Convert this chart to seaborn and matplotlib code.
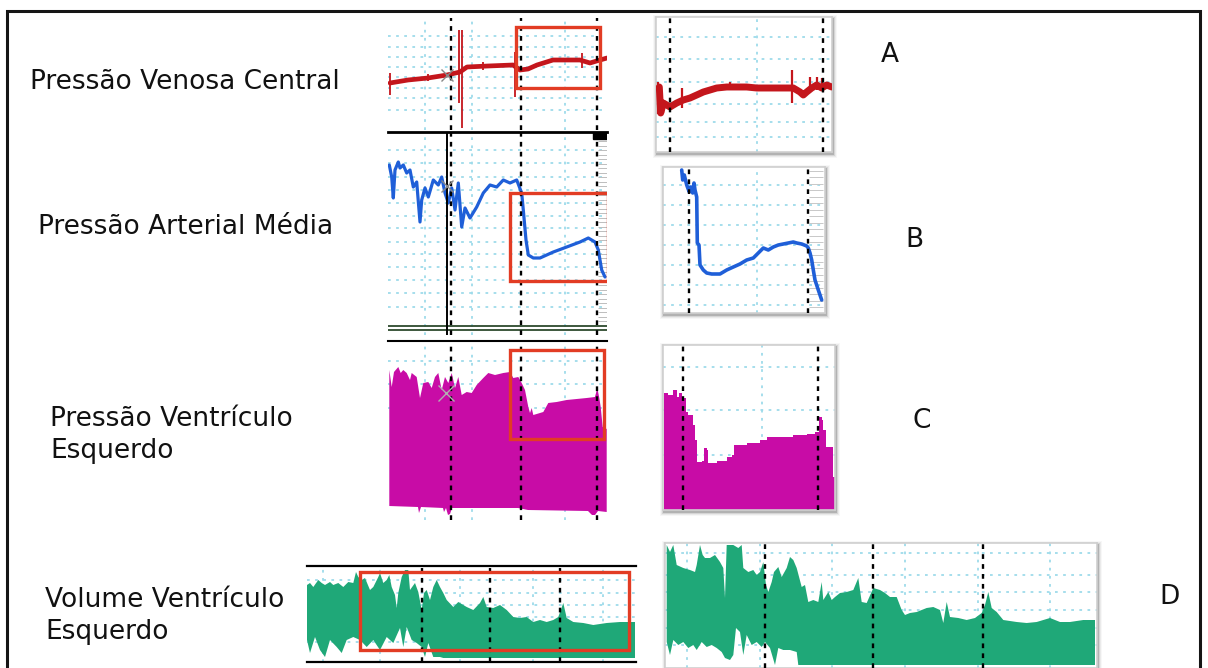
import numpy as np
import seaborn as sns
import matplotlib.pyplot as plt
from matplotlib.patches import Rectangle

sns.set_theme(style="white")
plt.rcParams['font.family'] = ['DejaVu Sans']

W, H = 1208, 668

# ---- traces (time units, signal units) ----
# A left: pressao venosa central
a_t = [2, 20, 40, 59, 72, 79, 100, 125, 132, 140, 149, 165, 192, 202, 212, 219]
a_v = [47, 50, 52, 55, 58, 63, 64, 65, 60, 61, 65, 70, 70, 67, 70, 72]
a_spk_t = [2, 71, 74, 127, 194, 95, 40]
a_spk_lo = [35, 27, 2, 33, 62, 60, 49]
a_spk_hi = [57, 100, 100, 78, 77, 68, 56]
a_marks = [63, 133, 209]

# B left: pressao arterial media
b_t = [1.3, 3.7, 5.3, 7, 10.3, 12, 15.3, 18.7, 22, 25.3, 28.7, 32, 33.7, 37, 40.3, 45.3, 50.3, 53.7,
       57, 60.3, 63.7, 67, 70.3, 73.7, 77, 82, 88.7, 95.3, 102, 108.7, 115.3, 122, 128.7, 133.7,
       135.3, 138, 140.3, 145.3, 152, 165.3, 178.7, 192, 200.3, 207, 210.3, 213.7, 217]
b_v = [170, 158, 137, 165, 173, 167, 170, 162, 165, 148, 153, 113, 135, 147, 138, 155, 150, 158,
       142, 132, 147, 125, 152, 108, 127, 117, 128, 142, 150, 148, 155, 152, 155, 142,
       125, 95, 80, 77, 77, 83, 88, 93, 97, 93, 85, 65, 58]
b_marks = [63, 133, 209]

# C left: pressao ventriculo esquerdo (upper envelope / lower envelope)
c_t = [1.3, 3.7, 6, 10.3, 12.7, 15.3, 18.7, 22, 23.7, 28.7, 32, 35.3, 40.3, 43.7, 47, 50.3, 53.7,
       57, 60.3, 63.7, 67, 70.3, 73.7, 78.7, 83.7, 88.7, 95.3, 100.3, 107, 115.3, 122, 125.3, 130.3,
       133.7, 137, 140.3, 142, 143.7, 145.3, 148.7, 155.3, 160.3, 168.7, 178.7, 188.7, 198.7, 207,
       209.3, 211.3, 212.7, 214.7, 218.7]
c_v = [150, 133, 148, 153, 147, 150, 147, 140, 147, 143, 122, 137, 138, 132, 143, 147, 130,
       143, 137, 147, 132, 143, 125, 128, 127, 135, 142, 147, 145, 147, 148, 142, 143,
       137, 130, 113, 107, 112, 105, 106, 108, 117, 118, 120, 121, 122, 123,
       132, 122, 113, 93, 91]
c_lo_t = [1.3, 30, 31, 33, 55, 56, 58, 60, 62, 64, 130, 140, 200, 204, 207, 210, 218.7]
c_lo_v = [14, 13, 7, 13, 12, 8, 12, 5, 6, 12, 12, 10, 9, 5, 5, 9, 8]

# D left: volume ventriculo esquerdo
d_t = [0, 3, 6.3, 11.3, 14.7, 18, 23, 26.3, 31.3, 36.3, 41.3, 46.3, 49, 51.3, 54.7, 58, 63, 66.3,
       71.3, 73, 76.3, 79.7, 82.3, 84.7, 88, 89.7, 91.3, 94.7, 98, 101.3, 103, 108, 111.3, 114.7,
       117, 119.7, 123, 126.3, 129.7, 133, 136.3, 139.7, 146.3, 151.3, 156.3, 159.7, 166.3, 173,
       176.3, 179.7, 186.3, 193, 199.7, 206.3, 213, 219.7, 226.3, 233, 239.7, 246.3, 251.3, 256.3,
       259.7, 266.3, 276.3, 286.3, 299.7, 313, 328]
d_v = [77, 79, 75, 82, 79, 77, 80, 77, 79, 75, 80, 79, 90, 85, 82, 84, 72, 75,
       85, 89, 79, 82, 87, 75, 67, 54, 69, 85, 92, 92, 72, 79, 70, 52,
       69, 72, 62, 75, 82, 75, 69, 62, 55, 60, 57, 55, 52, 59,
       65, 55, 54, 57, 52, 45, 44, 45, 40, 42, 40, 42, 45, 59,
       44, 40, 39, 37, 39, 40, 40]
d_lo_t = [328, 136.3, 133, 126.3, 121.3, 118, 114.7, 109.7, 104.7, 99.7, 96.3, 93, 86.3, 79.7,
          73, 66.3, 59.7, 53, 46.3, 39.7, 34.7, 29.7, 23, 18, 13, 8, 3, 0]
d_lo_v = [4, 4, 5, 5, 19, 5, 15, 19, 22, 35, 15, 34, 19, 25,
          12, 22, 15, 22, 25, 22, 9, 15, 22, 5, 12, 25, 9, 22]
d_marks = [115, 183, 253]

# A right (zoom)
ar_t = [3.3, 4.7, 7.3, 14, 20.7, 27.3, 34, 40.7, 47.3, 54, 60.7, 70.7, 80.7, 90.7, 100.7, 110.7,
        120.7, 130.7, 137.3, 144, 147.3, 150.7, 155.7, 160.7, 165.7, 170.7, 175.7]
ar_v = [65, 39, 49, 45, 49, 52, 54, 57, 60, 62, 64, 65, 65, 65, 64, 64,
        64, 64, 64, 60, 57, 60, 64, 67, 64, 67, 65]
ar_spk_t = [25.7, 135.7, 74, 154, 160.7, 165.7, 2]
ar_spk_lo = [44, 49, 62, 62, 62, 62, 38]
ar_spk_hi = [64, 82, 70, 75, 75, 74, 70]
ar_marks = [14, 166.7]

# B right (zoom)
br_t = [18.7, 19.7, 21.3, 23.7, 26.3, 27.7, 29.7, 31, 32, 33.7, 34.3, 36, 37, 40.3, 43.7, 48.7, 57,
        63.7, 70.3, 77, 83.7, 90.3, 95.3, 100.3, 105.3, 110.3, 115.3, 120.3, 125.3, 130.3, 133.7,
        138.7, 143.7, 145.3, 147, 148.7, 150.3, 152, 155.3, 158.7]
br_v = [143, 133, 138, 128, 121, 126, 120, 130, 123, 116, 70, 68, 48, 43, 40, 39, 39,
        43, 46, 49, 53, 55, 60, 65, 63, 66, 68, 69, 70, 71, 70,
        69, 67, 65, 60, 53, 43, 33, 23, 13]
br_marks = [26.3, 145.3]

# C right (zoom)
cr_t = [1, 5.3, 10.3, 13.7, 16.3, 18.7, 21, 23, 25.3, 28.7, 30.3, 32, 34.3, 38.7, 41, 43.7, 45.3,
        53.7, 63.7, 68.7, 71, 83.7, 97, 103.7, 117, 130.3, 143.7, 152, 156.3, 158.7, 160.3, 163,
        167, 169.7, 172]
cr_v = [117, 115, 120, 113, 117, 110, 112, 98, 95, 95, 85, 70, 48, 49, 62, 60, 47,
        49, 53, 55, 65, 67, 70, 73, 73, 75, 76, 78, 93, 90, 80, 63,
        63, 33, 33]
cr_marks = [20.3, 155.3]

# D right (zoom)
dr_t = [1.7, 5, 8.3, 11.7, 18.3, 25, 30, 31.7, 35, 37.7, 40, 45, 50, 55, 58.3, 60, 61.7, 68.3, 73.3,
        76.7, 78.3, 83.3, 88.3, 91.7, 95, 98.3, 101, 103.3, 106.7, 109, 113.3, 116.7, 121.7, 125,
        128.3, 131.7, 136.7, 140, 143.3, 148.3, 153.3, 156.7, 158.3, 163.3, 166.7, 170, 175, 181.7,
        188.3, 193.3, 196.7, 201.7, 208.3, 215, 220, 225, 231.7, 236.7, 240, 245, 251.7, 261.7,
        268.3, 275, 278.3, 281.7, 285, 293.3, 301.7, 310, 316.7, 320, 323.3, 326.7, 331.7, 338.3,
        351.7, 361.7, 371.7, 385, 395, 405, 418.3, 430]
dr_v = [123, 116, 123, 103, 100, 98, 96, 103, 123, 113, 110, 110, 113, 106, 100, 70, 123, 123, 120,
        123, 100, 96, 98, 93, 96, 106, 83, 76, 86, 96, 101, 91, 100, 111,
        108, 100, 81, 83, 66, 68, 66, 86, 68, 76, 68, 71, 75, 76,
        78, 90, 66, 65, 80, 78, 75, 71, 71, 58, 53, 55, 56, 60,
        61, 58, 45, 66, 51, 50, 48, 50, 55, 63, 76, 60, 56, 48,
        46, 45, 46, 50, 46, 46, 48, 48]
dr_lo_t = [430, 133.3, 131.7, 125, 118.3, 113.3, 110, 105, 100, 96.7, 91.7, 86.7, 81.7, 78.3, 75,
           71, 68.3, 65, 60, 56.7, 51.7, 46.7, 41.7, 36.7, 31.7, 28.3, 23.3, 18.3, 13.3, 8.3, 5, 1.7]
dr_lo_v = [3, 3, 16, 18, 18, 20, 3, 20, 26, 21, 26, 23, 33, 13, 36,
           40, 13, 8, 10, 16, 20, 23, 21, 26, 18, 23, 20, 26, 23, 28, 13, 26]
dr_marks = [100, 207.7, 317.7]

# zoom regions on the overview traces (red boxes): t0, v0, t1, v1
a_box = (128, 42, 212, 103)
b_box = (122, 54, 220, 142)
c_box = (122, 81, 216, 170)
d_box = (53, 12, 322, 90)

RED = "#c4161c"
BLUE = "#1f5fd8"
MAG = "#c80ca6"
GREEN = "#1fa878"
BOXRED = "#e23c24"
GRIDC = "#9edbea"

fig = plt.figure(figsize=(W / 100, H / 100), dpi=100)
fig.patch.set_facecolor("white")


def add_panel(x0, y0, x1, y1, xlim, ylim, gx, gy, frame=False):
    ax = fig.add_axes([x0 / W, 1 - y1 / H, (x1 - x0) / W, (y1 - y0) / H])
    ax.set_zorder(2)
    ax.set_facecolor("white")
    ax.set_xlim(*xlim)
    ax.set_ylim(*ylim)
    ax.set_xticks(gx)
    ax.set_yticks(gy)
    ax.tick_params(length=0, labelbottom=False, labelleft=False)
    ax.grid(True, color=GRIDC, ls=(0, (1.5, 3)), lw=1.3)
    for s in ax.spines.values():
        s.set_visible(frame)
        s.set_color("#cfcfcf")
        s.set_linewidth(1.2)
    if frame:
        # soft drop shadow behind framed zoom panels
        for k, al in enumerate([0.16, 0.09, 0.05, 0.03]):
            d = k + 1
            fig.add_artist(Rectangle(((x0 - d + 1) / W, 1 - (y1 + d + 2) / H),
                                     (x1 - x0 + 2 * d) / W, (y1 - y0 + 2 * d) / H,
                                     transform=fig.transFigure, color="black",
                                     alpha=al, lw=0, zorder=0))
    return ax


def marks(ax, xs):
    for x in xs:
        ax.axvline(x, color="black", ls=(0, (2, 2.2)), lw=1.7, zorder=4)


def redbox(ax, b):
    ax.add_patch(Rectangle((b[0], b[1]), b[2] - b[0], b[3] - b[1], fill=False,
                           ec=BOXRED, lw=2.4, zorder=6))


# ---- left overview panels ----
ax = add_panel(388, 18, 607, 130, (0, 219), (0, 112), [37, 84, 177], [20, 32, 42, 53, 63, 73, 83, 94])
marks(ax, a_marks)
sns.lineplot(x=a_t, y=a_v, ax=ax, color=RED, lw=3.4, estimator=None, sort=False, zorder=3)
ax.vlines(a_spk_t, a_spk_lo, a_spk_hi, color=RED, lw=1.3, zorder=3)
ax.plot([59], [55], marker="x", color="#888888", ms=9, mew=1, zorder=5)
redbox(ax, a_box)

ax = add_panel(388, 132, 607, 335, (0, 219), (0, 203), [37, 84, 177],
               [28, 42, 55, 68, 81, 93, 107, 119, 132, 145, 158, 172, 185])
ax.spines["top"].set_visible(True)
ax.spines["top"].set_color("black")
ax.spines["top"].set_linewidth(2)
marks(ax, b_marks)
ax.axvline(58.7, color="black", lw=1.4, zorder=4)
ax.axhline(9, color="#2d4a2d", lw=1.3)
ax.axhline(5, color="#2d4a2d", lw=1.3)
ax.hlines(np.arange(14, 196, 4.5), 210, 219, color="#bdbdbd", lw=0.7)
ax.add_patch(Rectangle((205, 196), 14, 7, color="black", zorder=5))
sns.lineplot(x=b_t, y=b_v, ax=ax, color=BLUE, lw=2.3, estimator=None, sort=False, zorder=3)
ax.plot([59], [149], marker="x", color="#888888", ms=9, mew=1, zorder=5)
redbox(ax, b_box)

ax = add_panel(388, 341, 607, 520, (0, 219), (0, 179), [37, 84, 177], [112, 136, 159])
ax.spines["top"].set_visible(True)
ax.spines["top"].set_color("black")
ax.spines["top"].set_linewidth(1.5)
ax.fill(c_t + c_lo_t[::-1], c_v + c_lo_v[::-1], color=MAG, lw=0, zorder=2)
marks(ax, a_marks)
ax.plot([58], [127], marker="x", color="#b0b0b0", ms=12, mew=1, zorder=5)
redbox(ax, c_box)

ax = add_panel(307, 566, 636, 662, (0, 329), (0, 96), [16, 73, 153, 226, 296], [20, 32, 45, 57, 69, 82])
for s in ("top", "bottom"):
    ax.spines[s].set_visible(True)
    ax.spines[s].set_color("black")
    ax.spines[s].set_linewidth(1.6)
ax.fill(d_t + d_lo_t, d_v + d_lo_v, color=GREEN, lw=0, zorder=2)
marks(ax, d_marks)
redbox(ax, d_box)

# ---- right zoom panels ----
ax = add_panel(656, 17, 832, 152, (0, 176), (0, 135), [101], [15, 30, 48, 70, 93, 115], frame=True)
marks(ax, ar_marks)
sns.lineplot(x=ar_t, y=ar_v, ax=ax, color=RED, lw=5, estimator=None, sort=False, zorder=3)
ax.vlines(ar_spk_t, ar_spk_lo, ar_spk_hi, color=RED, lw=1.6, zorder=3)

ax = add_panel(663, 167, 825, 313, (0, 162), (0, 146), [93.7], [8, 28, 48, 68, 88, 108, 128], frame=True)
ax.hlines(np.arange(6, 146, 6.5), 146, 160, color="#c8c8c8", lw=0.7)
marks(ax, br_marks)
sns.lineplot(x=br_t, y=br_v, ax=ax, color=BLUE, lw=2.6, estimator=None, sort=False, zorder=3)

ax = add_panel(663, 345, 835, 510, (0, 172), (0, 165), [98.7], [55, 100, 143], frame=True)
ax.fill_between(cr_t, cr_v, 0, color=MAG, lw=0, step="post", zorder=2)
marks(ax, cr_marks)

ax = add_panel(665, 543, 1097, 668, (0, 432), (0, 125), [21.7, 95, 166.7, 240, 313.3, 385],
               [23, 40, 58, 76, 93, 115], frame=True)
ax.fill(dr_t + dr_lo_t, dr_v + dr_lo_v, color=GREEN, lw=0, zorder=2)
marks(ax, dr_marks)

# ---- labels ----
def label(x, y, s, **kw):
    fig.text(x / W, 1 - y / H, s, fontsize=19, va="center", ha="left", color="#111111", **kw)


label(30, 82, "Pressão Venosa Central")
label(38, 227, "Pressão Arterial Média")
label(50, 435, "Pressão Ventrículo\nEsquerdo", linespacing=1.3)
label(45, 616, "Volume Ventrículo\nEsquerdo", linespacing=1.3)
label(881, 55, "A")
label(905, 240, "B")
label(912, 421, "C")
label(1159, 597, "D")

# outer frame
fig.add_artist(Rectangle((7 / W, -0.01), (1193) / W, 1 - 11 / H + 0.01, transform=fig.transFigure,
                         fill=False, ec="#151515", lw=2.2, zorder=10))

fig.savefig("out.png", dpi=100)
